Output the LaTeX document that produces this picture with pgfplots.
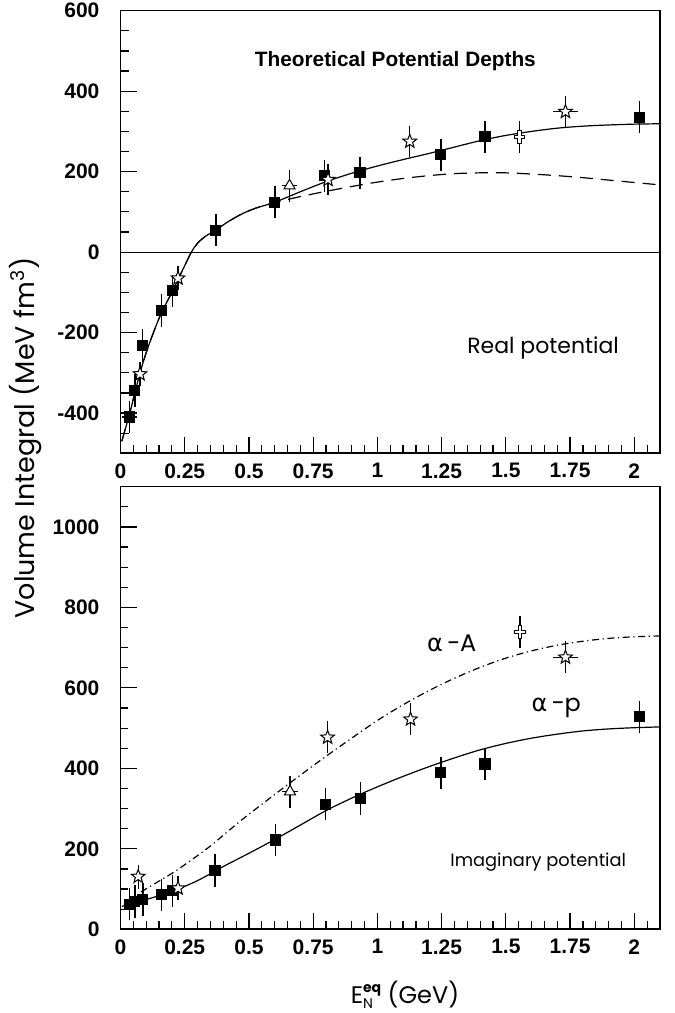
\documentclass[border=0pt]{standalone}
\usepackage{pgfplots}
\pgfplotsset{compat=1.18}
\usepackage{fontspec}
\setmainfont{Liberation Sans}
\newfontfamily\lbl{Poppins}
\newfontfamily\dejavu{DejaVu Sans}
\usetikzlibrary{plotmarks}

\pgfdeclareplotmark{ostar}{%
  \pgfpathmoveto{\pgfpointpolar{90}{\pgfplotmarksize}}%
  \pgfpathlineto{\pgfpointpolar{126}{0.42\pgfplotmarksize}}%
  \pgfpathlineto{\pgfpointpolar{162}{\pgfplotmarksize}}%
  \pgfpathlineto{\pgfpointpolar{198}{0.42\pgfplotmarksize}}%
  \pgfpathlineto{\pgfpointpolar{234}{\pgfplotmarksize}}%
  \pgfpathlineto{\pgfpointpolar{270}{0.42\pgfplotmarksize}}%
  \pgfpathlineto{\pgfpointpolar{306}{\pgfplotmarksize}}%
  \pgfpathlineto{\pgfpointpolar{342}{0.42\pgfplotmarksize}}%
  \pgfpathlineto{\pgfpointpolar{18}{\pgfplotmarksize}}%
  \pgfpathlineto{\pgfpointpolar{54}{0.42\pgfplotmarksize}}%
  \pgfpathclose
  \pgfusepathqfillstroke}
\pgfdeclareplotmark{ocross}{%
  \pgfpathmoveto{\pgfpoint{-0.35\pgfplotmarksize}{1.2\pgfplotmarksize}}%
  \pgfpathlineto{\pgfpoint{0.35\pgfplotmarksize}{1.2\pgfplotmarksize}}%
  \pgfpathlineto{\pgfpoint{0.35\pgfplotmarksize}{0.3\pgfplotmarksize}}%
  \pgfpathlineto{\pgfpoint{0.9\pgfplotmarksize}{0.3\pgfplotmarksize}}%
  \pgfpathlineto{\pgfpoint{0.9\pgfplotmarksize}{-0.3\pgfplotmarksize}}%
  \pgfpathlineto{\pgfpoint{0.35\pgfplotmarksize}{-0.3\pgfplotmarksize}}%
  \pgfpathlineto{\pgfpoint{0.35\pgfplotmarksize}{-1.2\pgfplotmarksize}}%
  \pgfpathlineto{\pgfpoint{-0.35\pgfplotmarksize}{-1.2\pgfplotmarksize}}%
  \pgfpathlineto{\pgfpoint{-0.35\pgfplotmarksize}{-0.3\pgfplotmarksize}}%
  \pgfpathlineto{\pgfpoint{-0.9\pgfplotmarksize}{-0.3\pgfplotmarksize}}%
  \pgfpathlineto{\pgfpoint{-0.9\pgfplotmarksize}{0.3\pgfplotmarksize}}%
  \pgfpathlineto{\pgfpoint{-0.35\pgfplotmarksize}{0.3\pgfplotmarksize}}%
  \pgfpathclose
  \pgfusepathqfillstroke}

\pgfplotstableread{
x y ex ey
0.034 -410 0.03 40
0.056 -344 0 40
0.086 -232 0 40
0.160 -145 0 40
0.202 -96 0 40
0.371 54 0 40
0.601 124 0 40
0.794 190 0 40
0.932 197 0 40
1.247 242 0 40
1.419 287 0 40
2.020 335 0 40
}\topsq
\pgfplotstableread{
x y ex ey
0.076 -303 0 30
0.224 -65 0 30
0.808 180 0 38
1.126 275 0 39
1.732 349 0.05 40
}\topstar
\pgfplotstableread{
x y ex ey
0.658 165 0.03 40
}\toptri
\pgfplotstableread{
x y ex ey
1.552 286 0 40
}\topcross
\pgfplotstableread{
x y ex ey
0.034 62 0 40
0.056 69 0 40
0.087 74 0 40
0.159 86 0 40
0.203 96 0 40
0.368 146 0 40
0.603 222 0 40
0.797 311 0 40
0.934 325 0 40
1.247 389 0 40
1.419 411 0 40
2.020 528 0 40
}\botsq
\pgfplotstableread{
x y ex ey
0.069 131 0 30
0.224 102 0 30
0.806 477 0 40
1.129 522 0 40
1.732 676 0.05 40
}\botstar
\pgfplotstableread{
x y ex ey
0.660 342 0.03 40
}\bottri
\pgfplotstableread{
x y ex ey
1.555 739 0 40
}\botcross

\pgfplotsset{
  panel/.style={
    scale only axis, width=269.75pt, height=221.3pt,
    xmin=0, xmax=2.1,
    axis line style={line width=0.8pt},
    xtick={0,0.25,...,2}, minor xtick={0,0.05,...,2.1},
    xtick pos=bottom, ytick pos=left, tick align=inside,
    major tick length=8pt, minor tick length=4pt,
    every tick/.style={black, line width=0.6pt},
    /pgf/number format/assume math mode=true,
    /pgf/number format/1000 sep={},
    ticklabel style={font=\fontsize{10.5}{12}\selectfont\bfseries},
    xticklabel style={yshift=-1.5pt},
    yticklabel style={xshift=-7pt},
  },
  pts/.style={only marks, line width=0.6pt,
    error bars/x dir=both, error bars/x explicit,
    error bars/y dir=both, error bars/y explicit,
    error bars/error mark=none,
    error bars/error bar style={line width=0.7pt, solid}},
  sq/.style={pts, mark=square*, mark size=2.5pt, mark options={fill=black, draw=black}},
  st/.style={pts, mark=ostar, mark size=3.6pt, mark options={fill=white, draw=black, line width=0.5pt}},
  tr/.style={pts, mark=triangle*, mark size=3.2pt, mark options={fill=white, draw=black, line width=0.5pt}},
  cr/.style={pts, mark=ocross, mark size=2.8pt, mark options={fill=white, draw=black, line width=0.5pt}},
}

\begin{document}
\begin{tikzpicture}[x=1pt,y=1pt]
\useasboundingbox (-60.25,-41.85) rectangle (277.25,464.65);
% bottom panel
\begin{axis}[panel, at={(0pt,0pt)}, anchor=south west,
  ymin=0, ymax=1100, ytick={0,200,...,1000}, minor ytick={50,100,...,1050}]
\addplot[black, line width=0.6pt, smooth] coordinates {
(0.005,57) (0.1,74) (0.2,94) (0.3,121) (0.4,156) (0.5,189) (0.6,223) (0.7,259) (0.8,295)
(0.9,326) (1.0,354) (1.1,380) (1.2,404) (1.3,426) (1.4,446) (1.5,462) (1.6,475)
(1.7,485) (1.8,493) (1.9,498) (2.0,501) (2.1,503)};
\addplot[black, line width=0.6pt, smooth, dash pattern=on 3.5pt off 1.8pt on 0.6pt off 1.8pt] coordinates {
(0.08,93) (0.14,116) (0.21,143) (0.28,174) (0.35,207) (0.41,239) (0.48,276) (0.6,335)
(0.7,383) (0.8,430) (0.9,475) (1.0,519) (1.1,558) (1.2,593) (1.3,624) (1.4,651)
(1.5,674) (1.6,692) (1.7,706) (1.8,716) (1.9,723) (2.0,727) (2.1,729)};
\addplot[sq] table[x=x, y=y, x error=ex, y error=ey] {\botsq};
\addplot[st] table[x=x, y=y, x error=ex, y error=ey] {\botstar};
\addplot[tr] table[x=x, y=y, x error=ex, y error=ey] {\bottri};
\addplot[cr] table[x=x, y=y, x error=ex, y error=ey] {\botcross};
\node[font=\lbl\fontsize{8.9}{11}\selectfont] at (axis cs:1.626,167) {Imaginary potential};
\node[font=\fontsize{12}{14}\selectfont] at (axis cs:1.289,711) {{\dejavu α}{\lbl\,−A}};
\node[font=\fontsize{12}{14}\selectfont] at (axis cs:1.696,550) {{\dejavu α}{\lbl\,−p}};
\end{axis}
% top panel
\begin{axis}[panel, at={(0pt,238pt)}, anchor=south west,
  ymin=-500, ymax=600, ytick={-400,-200,...,600}, minor ytick={-450,-400,...,550}]
\addplot[black, line width=0.6pt] coordinates {(0,0) (2.1,0)};
\addplot[black, line width=0.6pt, smooth] coordinates {
(0.005,-470) (0.034,-405) (0.056,-350) (0.076,-300) (0.1,-250) (0.13,-197) (0.16,-150)
(0.2,-100) (0.24,-47) (0.276,0) (0.30,22) (0.33,39) (0.371,55) (0.42,76) (0.476,96)
(0.53,110) (0.601,124) (0.7,150) (0.8,175) (0.9,196) (1.0,214) (1.1,230) (1.2,245)
(1.3,261) (1.4,277) (1.5,290) (1.6,300) (1.7,308) (1.8,313) (1.9,316) (2.0,318) (2.1,319)};
\addplot[black, line width=0.6pt, smooth, dash pattern=on 6.5pt off 4pt] coordinates {
(0.005,-470) (0.034,-405) (0.056,-350) (0.076,-300) (0.1,-250) (0.13,-197) (0.16,-150)
(0.2,-100) (0.24,-47) (0.276,0) (0.30,22) (0.33,39) (0.371,55) (0.42,76) (0.476,96)
(0.53,110) (0.6,123) (0.7,138) (0.8,151) (0.9,163) (1.0,174) (1.1,183) (1.2,190)
(1.3,195) (1.4,197) (1.5,197) (1.6,194) (1.7,190) (1.8,185) (1.9,179) (2.0,173) (2.1,167)};
\addplot[sq] table[x=x, y=y, x error=ex, y error=ey] {\topsq};
\addplot[st] table[x=x, y=y, x error=ex, y error=ey] {\topstar};
\addplot[tr] table[x=x, y=y, x error=ex, y error=ey] {\toptri};
\addplot[cr] table[x=x, y=y, x error=ex, y error=ey] {\topcross};
\node[font=\fontsize{10.4}{12}\selectfont\bfseries] at (axis cs:1.07,475) {Theoretical Potential Depths};
\node[font=\lbl\fontsize{11}{13}\selectfont] at (axis cs:1.645,-238) {Real potential};
\end{axis}
\node[rotate=90, font=\lbl\fontsize{13.5}{15}\selectfont] at (-47.25,245.65) {Volume Integral (MeV fm\textsuperscript{3})};
\node[font=\lbl\fontsize{12}{14}\selectfont] at (142.25,-32.85) {E\rlap{\raisebox{-0.35ex}{\fontsize{7}{8}\selectfont N}}\raisebox{0.9ex}{\fontsize{7}{8}\selectfont\bfseries eq} (GeV)};
\end{tikzpicture}
\end{document}
